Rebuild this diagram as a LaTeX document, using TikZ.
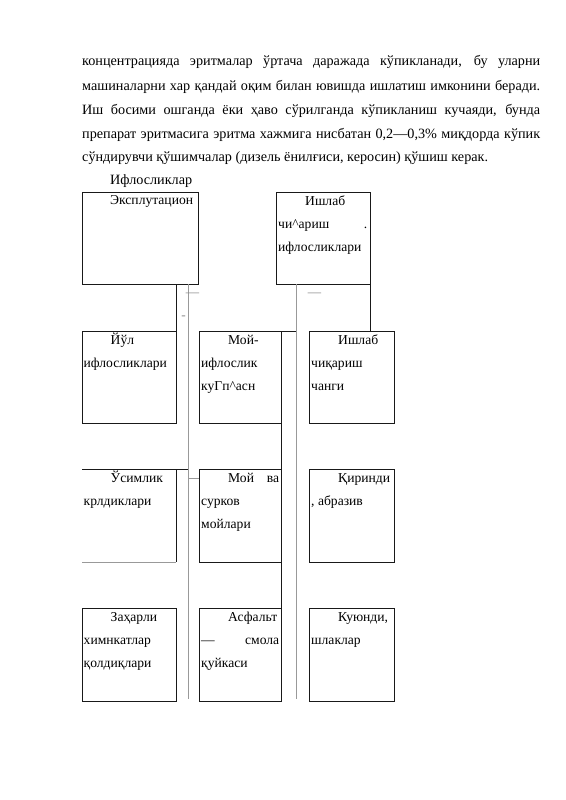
\documentclass[tikz,border=0pt]{standalone}
\usepackage{fontspec}
\setmainfont{Liberation Serif}
\usetikzlibrary{calc}
\begin{document}
\begin{tikzpicture}[x=1pt,y=-1pt,
  frame/.style={draw=black!90, line width=0.8pt, inner sep=0pt, outer sep=0pt, anchor=north west},
  openframe/.style={inner sep=0pt, outer sep=0pt, anchor=north west},
  dark/.style={draw=black!90, line width=0.8pt},
  lightline/.style={draw=black!40, line width=0.8pt},
  txt/.style={anchor=base west, inner sep=0pt, font=\fontsize{13.6}{23}\selectfont},
  paratxt/.style={anchor=base west, inner sep=0pt, font=\fontsize{14.2}{24}\selectfont},
  dashmark/.style={anchor=base, inner sep=0pt, text=black!45, font=\fontsize{13.3}{23}\selectfont}]
\useasboundingbox (0,0) rectangle (565,800);
\fill[white] (0,0) rectangle (565,800);

% paragraph
\node[paratxt] (p1) at (82,66) {\hbox to 458pt{концентрацияда эритмалар ўртача даражада кўпикланади, бу уларни}};
\node[paratxt] (p2) at (82,90) {\hbox to 458pt{машиналарни хар қандай оқим билан ювишда ишлатиш имконини беради.}};
\node[paratxt] (p3) at (82,114) {\hbox to 458pt{Иш босими ошганда ёки ҳаво сўрилганда кўпикланиш кучаяди, бунда}};
\node[paratxt] (p4) at (82,138) {\hbox to 458pt{препарат эритмасига эритма хажмига нисбатан 0,2—0,3\% миқдорда кўпик}};
\node[paratxt] (p5) at (82,161) {сўндирувчи қўшимчалар (дизель ёнилғиси, керосин) қўшиш керак.};
\node[paratxt] (p6) at (110,184) {Ифлосликлар};

% top boxes
\node[frame, minimum width=116pt, minimum height=92pt] (b1) at (82,192) {};
\node[frame, minimum width=94pt, minimum height=92pt] (b2) at (276,192) {};
% row 2
\node[frame, minimum width=94pt, minimum height=92pt] (r2a) at (82,331) {};
\node[frame, minimum width=82pt, minimum height=92pt] (r2b) at (199,331) {};
\node[frame, minimum width=85pt, minimum height=92pt] (r2c) at (309,331) {};
% row 3
\node[openframe, minimum width=94pt, minimum height=93pt] (r3a) at (82,469) {};
\node[frame, minimum width=82pt, minimum height=93pt] (r3b) at (199,469) {};
\node[frame, minimum width=85pt, minimum height=93pt] (r3c) at (309,469) {};
% row 4
\node[frame, minimum width=94pt, minimum height=93pt] (r4a) at (82,608) {};
\node[frame, minimum width=82pt, minimum height=93pt] (r4b) at (199,608) {};
\node[frame, minimum width=85pt, minimum height=93pt] (r4c) at (309,608) {};

% named connector ends
\coordinate (g1a) at (188,284);
\coordinate (g1b) at (188,699);
\coordinate (g1m) at (188,478);
\coordinate (g2a) at (296,284);
\coordinate (g2b) at (296,699);
\coordinate (c1) at (176,284);

% row 3 left box edges (no left edge)
\draw[dark] (r3a.north west) -- (r3a.north west -| g1a);
\draw[dark] (r3a.north east) -- (r3a.south east);
\draw[lightline] (r3a.south west) -- (r3a.south east);

% connectors
\draw[dark] (c1) -- (r2a.north east);
\draw[lightline] (g1a) -- (g1b);
\draw[lightline] (g2a) -- (g2b);
\draw[dark] (b2.south east) -- (b2.south east |- r2c.north);
\draw[dark] (r2b.north east) -- (r2b.north east -| g2a);
\draw[dark] (r2b.south east) -- (r3b.north east);
\draw[dark] (r3b.south east) -- (r4b.north east);
\draw[lightline] (g1m) -- (g1m -| r3b.west);

% small dash marks
\node[dashmark] (d1) at (192.5,296) {—};
\node[dashmark] (d2) at (183.5,319) {-};
\node[dashmark] (d3) at (314.5,296) {—};

% box texts
\node[txt] (tb1) at ($(b1.north west)+(2,12)$) {\vtop{\hbox{\hskip26pt Эксплутацион}}};
\node[txt] (tb2) at ($(b2.north west)+(2,13)$) {\vtop{\hbox{\hskip27pt Ишлаб}\hbox to 89pt{чи\textasciicircum ариш\hfill.}\hbox{ифлосликлари}}};

\node[txt] (t2a) at ($(r2a.north west)+(1.5,13)$) {\vtop{\hbox{\hskip27pt Йўл}\hbox{ифлосликлари}}};
\node[txt] (t2b) at ($(r2b.north west)+(2,13)$) {\vtop{\hbox{\hskip27pt Мой-}\hbox{ифлослик}\hbox{куГп\textasciicircum асн}}};
\node[txt] (t2c) at ($(r2c.north west)+(2,13)$) {\vtop{\hbox{\hskip27pt Ишлаб}\hbox{чиқариш}\hbox{чанги}}};

\node[txt] (t3a) at ($(r3a.north west)+(1.5,13)$) {\vtop{\hbox{\hskip27pt Ўсимлик}\hbox{крлдиклари}}};
\node[txt] (t3b) at ($(r3b.north west)+(2,13)$) {\vtop{\hbox to 78pt{\hskip27pt Мой\hfill ва}\hbox{сурков}\hbox{мойлари}}};
\node[txt] (t3c) at ($(r3c.north west)+(2,13)$) {\vtop{\hbox{\hskip27pt Қиринди}\hbox{, абразив}}};

\node[txt] (t4a) at ($(r4a.north west)+(1.5,13)$) {\vtop{\hbox{\hskip27pt Заҳарли}\hbox{химнкатлар}\hbox{қолдиқлари}}};
\node[txt] (t4b) at ($(r4b.north west)+(2,13)$) {\vtop{\hbox{\hskip27pt Асфальт}\hbox to 78pt{—\hfill смола}\hbox{қуйкаси}}};
\node[txt] (t4c) at ($(r4c.north west)+(2,13)$) {\vtop{\hbox{\hskip27pt Куюнди,}\hbox{шлаклар}}};
\end{tikzpicture}
\end{document}
